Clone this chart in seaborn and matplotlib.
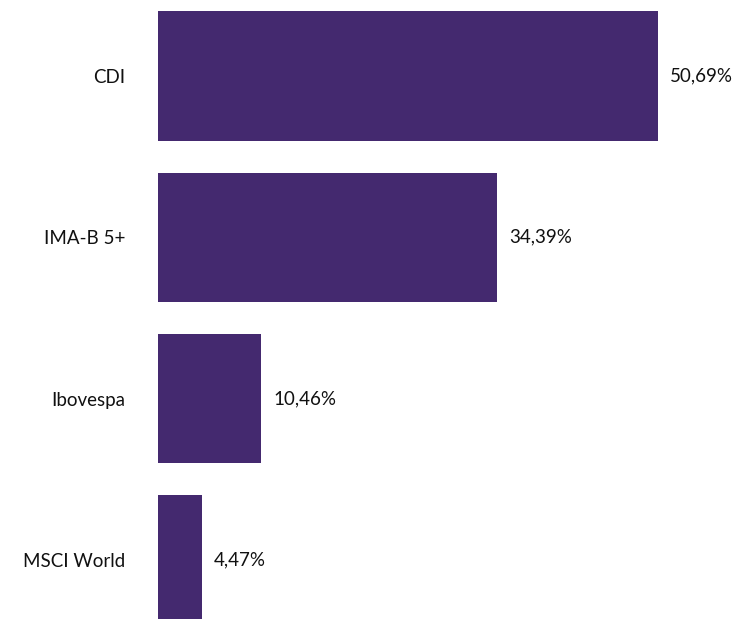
import seaborn as sns
import matplotlib.pyplot as plt
import pandas as pd

sns.set_theme(style="white")
plt.rcParams['font.family'] = ['Lato', 'DejaVu Sans']

# Alocação por índice
indices = ["CDI", "IMA-B 5+", "Ibovespa", "MSCI World"]
percentuais = [50.69, 34.39, 10.46, 4.47]
rotulos = ["50,69%", "34,39%", "10,46%", "4,47%"]

df = pd.DataFrame({"indice": indices, "pct": percentuais})

fig = plt.figure(figsize=(7.37, 6.19), dpi=100)
ax = fig.add_axes([158 / 737, 0.0, (737 - 158) / 737, 1.0])

sns.barplot(data=df, x="pct", y="indice", orient="h", color="#44296f",
            saturation=1, width=0.8, linewidth=0, ax=ax)

ax.bar_label(ax.containers[0], labels=rotulos, padding=8.5,
             fontsize=13.5, color="#111111")

ax.set_xlim(0, 58.7)
ax.set_ylim(3.366, -0.471)
ax.set_xlabel("")
ax.set_ylabel("")
ax.set_xticks([])
ax.tick_params(axis="y", length=0, pad=23.5, labelsize=13.5, labelcolor="#111111")
sns.despine(ax=ax, left=True, bottom=True)

fig.savefig("out.png", dpi=100, facecolor="white")
